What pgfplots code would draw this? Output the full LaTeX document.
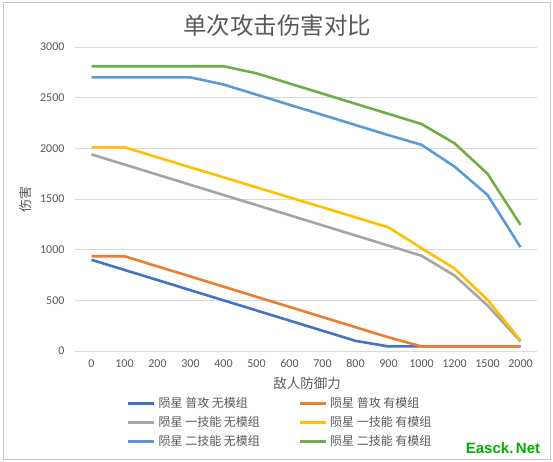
\documentclass[border=0pt]{standalone}
\usepackage{fontspec}
\setmainfont{Carlito}
\newfontfamily\cjk{Noto Sans CJK SC}
\usepackage{pgfplots}
\usepackage{pgfplotstable}
\pgfplotsset{compat=1.18}
\definecolor{c1}{HTML}{4472C4}
\definecolor{c2}{HTML}{ED7D31}
\definecolor{c3}{HTML}{A5A5A5}
\definecolor{c4}{HTML}{FFC000}
\definecolor{c5}{HTML}{5B9BD5}
\definecolor{c6}{HTML}{70AD47}
\definecolor{txt}{HTML}{595959}
\definecolor{gridc}{HTML}{D9D9D9}
\pgfplotstableread{
x a b c d e f
0 900 935 1940 2010 2700 2810
1 800 935 1840 2010 2700 2810
2 700 835 1740 1911 2700 2810
3 600 735 1640 1812 2700 2810
4 500 635 1540 1714 2630 2810
5 400 535 1440 1615 2530 2740
6 300 435 1340 1516 2430 2640
7 200 335 1240 1418 2330 2540
8 100 235 1140 1319 2230 2440
9 45 135 1040 1220 2130 2340
10 45 45 940 1015 2035 2240
11 45 45 745 815 1820 2050
12 45 45 450 505 1540 1750
13 45 45 95 105 1025 1245
}\data
\begin{document}
\begin{tikzpicture}
\path[use as bounding box] (0,0) rectangle (553bp,462bp);
\draw[gridc!80!gray, line width=0.8bp] (3bp,3bp) rectangle (550bp,460bp);
\begin{axis}[
  at={(75bp,111bp)}, anchor=south west,
  scale only axis, width=462bp, height=304bp,
  xmin=-0.5, xmax=13.5, ymin=0, ymax=3000,
  xtick={0,...,13},
  xticklabels={0,100,200,300,400,500,600,700,800,900,1000,1200,1500,2000},
  ytick={0,500,...,3000},
  ymajorgrids, grid style={gridc, line width=0.8bp},
  axis line style={draw=none},
  major tick length=0pt,
  tick style={draw=none},
  /pgf/number format/assume math mode=true,
  scaled y ticks=false,
  yticklabel style={/pgf/number format/1000 sep={}, xshift=-7bp},
  xticklabel style={yshift=-5bp},
  ticklabel style={font=\fontsize{12bp}{14bp}\selectfont, text=txt},
  every axis plot/.append style={line width=2.6bp, line join=round},
  legend columns=2,
  legend cell align=left,
  legend image code/.code={\draw[#1, line width=2.6bp] (0bp,0bp) -- (26bp,0bp);},
  legend style={draw=none, fill=none, inner sep=0pt, outer sep=0pt,
    at={(0.1126,-0.148)}, anchor=north west,
    font=\fontsize{12bp}{14bp}\selectfont, text=txt,
    row sep=3.5bp,
    nodes={inner sep=1.5bp, text height=10bp, text depth=2.5bp},
    /tikz/every odd column/.append style={column sep=1.5bp},
    /tikz/every even column/.append style={column sep=37bp}},
]
\addplot[c1] table[x=x,y=a]{\data};
\addlegendentry{\cjk 陨星 普攻 无模组}
\addplot[c2] table[x=x,y=b]{\data};
\addlegendentry{\cjk 陨星 普攻 有模组}
\addplot[c3] table[x=x,y=c]{\data};
\addlegendentry{\cjk 陨星 一技能 无模组}
\addplot[c4] table[x=x,y=d]{\data};
\addlegendentry{\cjk 陨星 一技能 有模组}
\addplot[c5] table[x=x,y=e]{\data};
\addlegendentry{\cjk 陨星 二技能 无模组}
\addplot[c6] table[x=x,y=f]{\data};
\addlegendentry{\cjk 陨星 二技能 有模组}
\end{axis}
\node[text=txt, font=\cjk\fontsize{23.5bp}{26bp}\selectfont] at (277bp,436bp) {单次攻击伤害对比};
\node[text=txt, font=\cjk\fontsize{13bp}{15bp}\selectfont, rotate=90] at (26bp,262bp) {伤害};
\node[text=txt, font=\cjk\fontsize{13.5bp}{15bp}\selectfont] at (307bp,79bp) {敌人防御力};
\node[text={rgb,255:red,0;green,175;blue,0}, font=\fontspec{Liberation Sans Bold}\fontsize{15bp}{17bp}\selectfont] at (503bp,14bp) {Easck.\,Net};
\end{tikzpicture}
\end{document}
